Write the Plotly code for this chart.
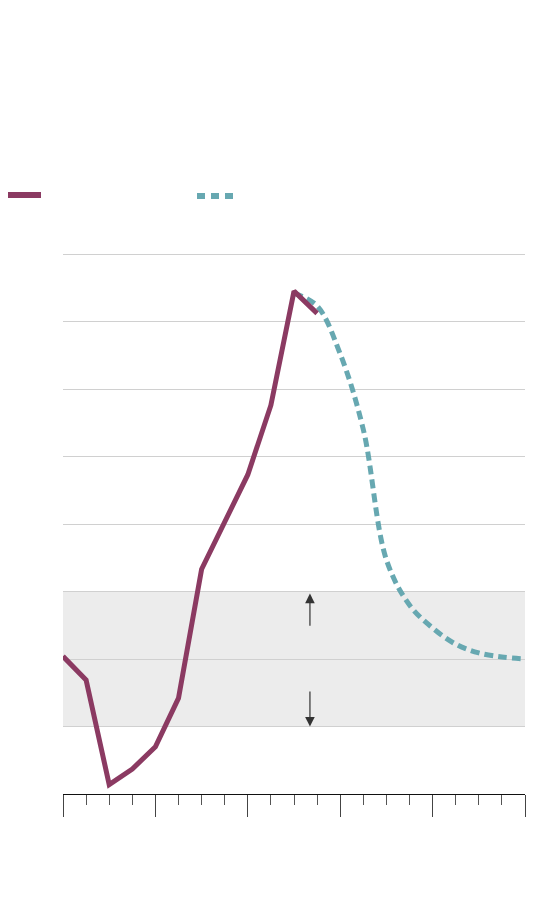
import plotly.graph_objects as go

# Quarters (0 = first quarter shown, 20 = end of fifth year)
actual_q = list(range(0, 12))
actual_vals = [2.04, 1.69, 0.14, 0.37, 0.70, 1.42, 3.33, 4.04, 4.73, 5.76, 7.45, 7.12]

forecast_q = list(range(10, 21))
forecast_vals = [7.42, 7.23, 6.52, 5.40, 3.47, 2.80, 2.46, 2.22, 2.09, 2.03, 2.00]

band_low, band_high = 1, 3
arrow_q = 10.69
y_max = 8

PURPLE = "#8B3A62"
TEAL = "#67A8B1"

W, H = 560, 906
OFF = 8  # page body margin
UNIT = 67.5  # pixels per y unit
PL, PR, PB = 63, 525, 794  # plot area in screen pixels
PT = PB - 544
L, T = PL - OFF, PT - OFF
pw, ph = PR - PL, PB - PT
R = W - L - pw
B = H - T - ph

def px_x(p):
    return (p - PL) / pw

def px_y(p):
    return (PB - p) / ph

fig = go.Figure()
fig.add_trace(go.Scatter(x=forecast_q, y=forecast_vals, mode="lines",
                         line=dict(color=TEAL, width=5, dash="9px,5px", shape="spline", smoothing=1.0),
                         hoverinfo="skip", showlegend=False))
fig.add_trace(go.Scatter(x=actual_q, y=actual_vals, mode="lines",
                         line=dict(color=PURPLE, width=5),
                         hoverinfo="skip", showlegend=False))

shapes = [
    dict(type="rect", xref="paper", yref="y", x0=0, x1=1, y0=band_low, y1=band_high,
         fillcolor="#ececec", line=dict(width=0), layer="below"),
    # legend swatches
    dict(type="line", xref="paper", yref="paper", x0=px_x(5), x1=px_x(41),
         y0=px_y(195), y1=px_y(195), line=dict(color=PURPLE, width=6)),
    dict(type="line", xref="paper", yref="paper", x0=px_x(197), x1=px_x(238),
         y0=px_y(196), y1=px_y(196), line=dict(color=TEAL, width=6, dash="8px,6px")),
]

annotations = [
    dict(x=arrow_q, y=2.97, ax=arrow_q, ay=2.47, xref="x", yref="y", axref="x", ayref="y",
         text="", showarrow=True, arrowhead=2, arrowsize=1.6, arrowwidth=1.2, arrowcolor="#333"),
    dict(x=arrow_q, y=1.0, ax=arrow_q, ay=1.54, xref="x", yref="y", axref="x", ayref="y",
         text="", showarrow=True, arrowhead=2, arrowsize=1.6, arrowwidth=1.2, arrowcolor="#333"),
]

fig.update_layout(
    width=W, height=H,
    margin=dict(l=L, r=R, t=T, b=B),
    paper_bgcolor="white", plot_bgcolor="rgba(0,0,0,0)",
    shapes=shapes, annotations=annotations,
    showlegend=False,
    xaxis=dict(range=[0, 20], showgrid=False, zeroline=False, showline=True,
               linecolor="#111", linewidth=1, ticks="outside", tick0=0, dtick=4,
               ticklen=22, tickcolor="#444", tickwidth=1, showticklabels=False,
               minor=dict(ticks="outside", dtick=1, ticklen=10, tickcolor="#555", tickwidth=1),
               fixedrange=True),
    yaxis=dict(range=[0, ph / UNIT], showgrid=True, gridcolor="#d0d0d0", gridwidth=1,
               zeroline=False, showline=False, tick0=0, dtick=1,
               showticklabels=False, ticks="", fixedrange=True),
)

fig.write_html("out.html")
